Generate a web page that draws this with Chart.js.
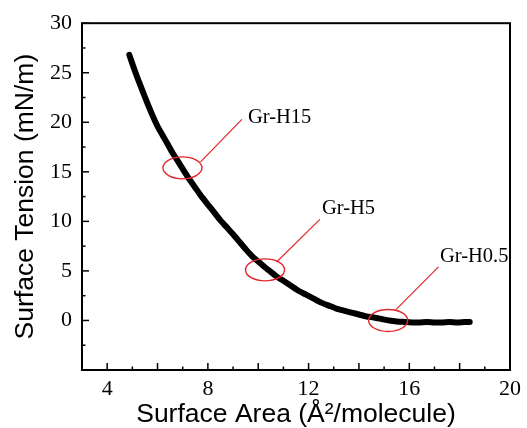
<!DOCTYPE html>
<html>
<head>
<meta charset="utf-8">
<script src="https://cdn.jsdelivr.net/npm/chart.js@4"></script>
<style>
  html, body { margin: 0; padding: 0; background: #fff; }
  #wrap { width: 527px; height: 428px; }
</style>
</head>
<body>
<div id="wrap"><canvas id="c" width="527" height="428"></canvas></div>
<script>
// ---- data ----
const areaValues = [4.88, 5.0, 5.2, 5.4, 5.6, 5.8, 6.0, 6.2, 6.4, 6.6, 6.8, 7.0, 7.25, 7.5, 7.75, 8.0, 8.25, 8.5, 8.75, 9.0, 9.25, 9.5, 9.75, 10.0, 10.25, 10.5, 10.75, 11.0, 11.3, 11.6, 11.9, 12.2, 12.5, 12.8, 13.1, 13.4, 13.7, 14.0, 14.3, 14.6, 14.9, 15.2, 15.5, 15.8, 16.1, 16.4, 16.7, 17.0, 17.3, 17.6, 17.9, 18.2, 18.4];
const tensionValues = [26.8, 25.9, 24.5, 23.2, 21.9, 20.7, 19.6, 18.7, 17.8, 16.9, 16.1, 15.3, 14.3, 13.4, 12.5, 11.7, 10.9, 10.1, 9.4, 8.7, 7.95, 7.2, 6.5, 5.95, 5.4, 4.9, 4.4, 4.0, 3.5, 3.0, 2.6, 2.2, 1.8, 1.5, 1.2, 1.0, 0.8, 0.6, 0.4, 0.3, 0.15, 0.0, -0.1, -0.15, -0.2, -0.2, -0.15, -0.2, -0.2, -0.15, -0.2, -0.15, -0.15];
const xLabelValues = [4, 8, 12, 16, 20];
const yLabelValues = [0, 5, 10, 15, 20, 25, 30];
const sampleNames = ['Gr-H15', 'Gr-H5', 'Gr-H0.5'];

// annotation placement (data coordinates)
const annotations = [
  { name: sampleNames[0], ellipse: [6.99, 15.4], from: [7.71, 16.0], to: [9.35, 20.3], text: [9.59, 20.5] },
  { name: sampleNames[1], ellipse: [10.27, 5.1], from: [10.73, 5.9], to: [12.45, 10.2], text: [12.53, 11.3] },
  { name: sampleNames[2], ellipse: [15.16, 0.0], from: [15.47, 1.1], to: [17.16, 5.4], text: [17.22, 6.4] }
];

const points = areaValues.map((x, i) => ({ x: x, y: tensionValues[i] }));

const framePlugin = {
  id: 'frameAndTicks',
  afterDatasetsDraw(chart) {
    const { ctx, chartArea: a, scales: { x, y } } = chart;
    ctx.save();
    ctx.strokeStyle = '#000';
    ctx.lineWidth = 1.5;
    // inward ticks x
    for (let v = 3; v <= 20; v += 1) {
      const px = x.getPixelForValue(v);
      const len = (v % 2 === 0) ? 7 : 3.5;
      ctx.beginPath();
      ctx.moveTo(px, a.bottom);
      ctx.lineTo(px, a.bottom - len);
      ctx.stroke();
    }
    // inward ticks y
    for (let v = -5; v <= 30; v += 2.5) {
      const py = y.getPixelForValue(v);
      const len = (v % 5 === 0) ? 7 : 3.5;
      ctx.beginPath();
      ctx.moveTo(a.left, py);
      ctx.lineTo(a.left + len, py);
      ctx.stroke();
    }
    // frame
    ctx.lineWidth = 2;
    ctx.strokeRect(a.left, a.top, a.right - a.left, a.bottom - a.top);

    // annotations
    ctx.strokeStyle = '#e3262b';
    ctx.fillStyle = '#000';
    ctx.font = '20.5px "Liberation Serif", "Times New Roman", serif';
    ctx.textAlign = 'left';
    ctx.textBaseline = 'middle';
    annotations.forEach(an => {
      const cx = x.getPixelForValue(an.ellipse[0]);
      const cy = y.getPixelForValue(an.ellipse[1]);
      ctx.lineWidth = 1.4;
      ctx.beginPath();
      ctx.ellipse(cx, cy, 19.5, 11, 0, 0, Math.PI * 2);
      ctx.stroke();
      ctx.lineWidth = 1.2;
      ctx.beginPath();
      ctx.moveTo(x.getPixelForValue(an.from[0]), y.getPixelForValue(an.from[1]));
      ctx.lineTo(x.getPixelForValue(an.to[0]), y.getPixelForValue(an.to[1]));
      ctx.stroke();
      ctx.fillText(an.name, x.getPixelForValue(an.text[0]), y.getPixelForValue(an.text[1]));
    });
    ctx.restore();
  }
};

new Chart(document.getElementById('c'), {
  type: 'line',
  data: {
    datasets: [{
      data: points,
      borderColor: '#000',
      borderWidth: 6,
      pointRadius: 0,
      tension: 0.2,
      borderJoinStyle: 'round',
      borderCapStyle: 'round'
    }]
  },
  options: {
    responsive: false,
    animation: false,
    devicePixelRatio: 1,
    layout: { padding: { top: 22, right: 12, left: 0, bottom: 0 } },
    plugins: { legend: { display: false }, tooltip: { enabled: false } },
    scales: {
      x: {
        type: 'linear',
        min: 3, max: 20,
        grid: { display: false, drawTicks: false },
        border: { display: false },
        ticks: {
          stepSize: 1,
          autoSkip: false,
          maxRotation: 0,
          padding: 6,
          color: '#000',
          font: { family: '"Liberation Serif", "Times New Roman", serif', size: 22 },
          callback: v => xLabelValues.includes(v) ? String(v) : ''
        },
        title: {
          display: true,
          text: 'Surface Area (Å²/molecule)',
          color: '#000',
          font: { family: '"Liberation Sans", Arial, sans-serif', size: 26.5, lineHeight: 1 },
          padding: { top: 0, bottom: 0 }
        },
        afterFit(scale) { scale.height = 58; }
      },
      y: {
        type: 'linear',
        min: -5, max: 30,
        grid: { display: false, drawTicks: false },
        border: { display: false },
        ticks: {
          stepSize: 2.5,
          autoSkip: false,
          padding: 10,
          color: '#000',
          font: { family: '"Liberation Serif", "Times New Roman", serif', size: 22 },
          callback: v => yLabelValues.includes(v) ? String(v) : ''
        },
        title: {
          display: true,
          text: 'Surface Tension (mN/m)',
          color: '#000',
          font: { family: '"Liberation Sans", Arial, sans-serif', size: 26.5, lineHeight: 1 },
          padding: { top: 12, bottom: 0 }
        },
        afterFit(scale) { scale.width = 82; }
      }
    }
  },
  plugins: [framePlugin]
});
</script>
</body>
</html>
